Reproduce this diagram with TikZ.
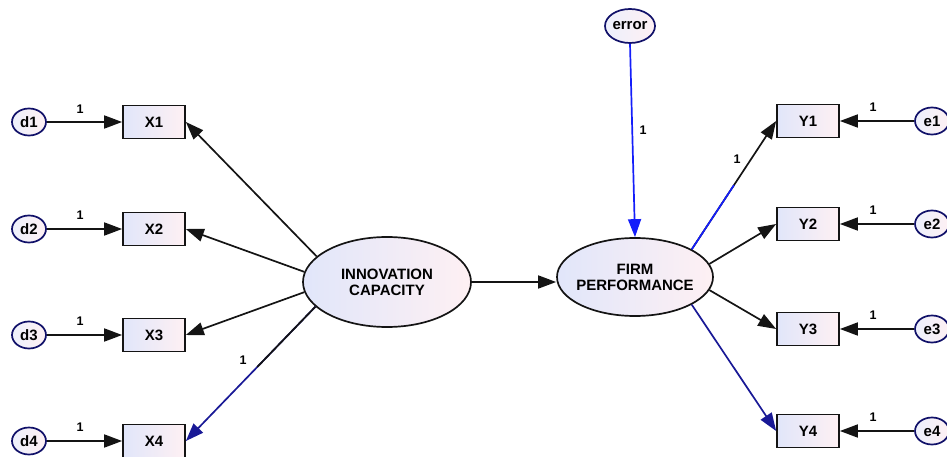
\documentclass[tikz,border=0pt]{standalone}
\usepackage{fontspec}
\setmainfont{Liberation Sans}
\usetikzlibrary{shapes.geometric,arrows.meta,calc}
\definecolor{lb}{RGB}{225,230,250}
\definecolor{lp}{RGB}{254,240,243}
\definecolor{navy}{RGB}{25,25,150}
\definecolor{brblue}{RGB}{20,30,250}
\definecolor{edge}{RGB}{20,20,20}
\begin{document}
\begin{tikzpicture}[x=1pt,y=-1pt,
  obs/.style={rectangle, draw=edge, line width=1.7pt, minimum width=62pt, minimum height=33pt, inner sep=0pt,
    left color=lb, right color=lp, font=\bfseries\fontsize{15}{16}\selectfont},
  res/.style={ellipse, draw=navy!70!black, line width=1.7pt, minimum width=34pt, minimum height=27pt, inner sep=0pt,
    left color=lb!60!white, right color=lp, font=\bfseries\fontsize{15}{16}\selectfont},
  lat/.style={ellipse, draw=edge, line width=1.7pt, inner ysep=0pt, inner xsep=-18pt, align=center,
    left color=lb, right color=lp, font=\bfseries\fontsize{15}{16}\selectfont},
  arr/.style={-{Triangle[length=18pt,width=13pt]}, line width=1.7pt, draw=edge, fill=edge},
  one/.style={font=\bfseries\fontsize{12.5}{13}\selectfont, inner sep=1pt}]
\useasboundingbox (0,0) rectangle (947,457);

% observed indicators
\node[obs] (x1) at (154,122) {X1};
\node[obs] (x2) at (154,229) {X2};
\node[obs] (x3) at (154,335) {X3};
\node[obs] (x4) at (154,441) {X4};
\node[obs] (y1) at (808,121) {Y1};
\node[obs] (y2) at (808,224) {Y2};
\node[obs] (y3) at (808,329) {Y3};
\node[obs] (y4) at (808,431) {Y4};

% residuals
\node[res] (d1) at (29,122) {d1};
\node[res] (d2) at (29,229) {d2};
\node[res] (d3) at (29,335) {d3};
\node[res] (d4) at (29,441) {d4};
\node[res] (e1) at (932,121) {e1};
\node[res] (e2) at (932,224) {e2};
\node[res] (e3) at (932,329) {e3};
\node[res] (e4) at (932,431) {e4};
\node[res, minimum width=50pt, minimum height=34pt] (err) at (630,26) {error};

% latent variables
\node[lat, minimum width=168pt, minimum height=90pt] (ic) at (387,282) {INNOVATION\\CAPACITY};
\node[lat, minimum width=156pt, minimum height=78pt] (fp) at (635,277) {FIRM\\PERFORMANCE};

% residual paths
\foreach \d/\x in {d1/x1,d2/x2,d3/x3,d4/x4}{\draw[arr] (\d.east) -- (\x.west);}
\foreach \e/\y in {e1/y1,e2/y2,e3/y3,e4/y4}{\draw[arr] (\e.west) -- (\y.east);}

% measurement paths
\draw[arr] (ic.160) -- (x1.east);
\draw[arr] (ic.173) -- (x2.east);
\draw[arr] (ic.187) -- (x3.east);
\draw[arr, draw=navy, fill=navy] (ic.199) -- (x4.east);
\draw[line width=1.7pt, draw=edge] (ic.199) -- ($(ic.199)!0.45!(x4.east)$);

\draw[arr] (fp.26) -- (y1.west);
\draw[line width=1.7pt, draw=brblue] (fp.26) -- ($(fp.26)!0.5!(y1.west)$);
\draw[arr] (fp.10) -- (y2.west);
\draw[arr] (fp.-10) -- (y3.west);
\draw[arr, draw=navy, fill=navy] (fp.-26) -- (y4.west);

% structural paths
\draw[arr] (ic.east) -- (ic.east -| fp.west);
\draw[arr, draw=brblue, fill=brblue] (err.south) -- (fp.north);

% labels
\node[one] (l1) at (80,109) {1};
\node[one] (l2) at (80,215) {1};
\node[one] (l3) at (80,321) {1};
\node[one] (l4) at (80,427) {1};
\node[one] (m1) at (873,107) {1};
\node[one] (m2) at (873,210) {1};
\node[one] (m3) at (873,315) {1};
\node[one] (m4) at (873,417) {1};
\node[one] (lx4) at (243,360) {1};
\node[one] (ly1) at (737,159) {1};
\node[one] (lerr) at (643,130) {1};
\end{tikzpicture}
\end{document}
